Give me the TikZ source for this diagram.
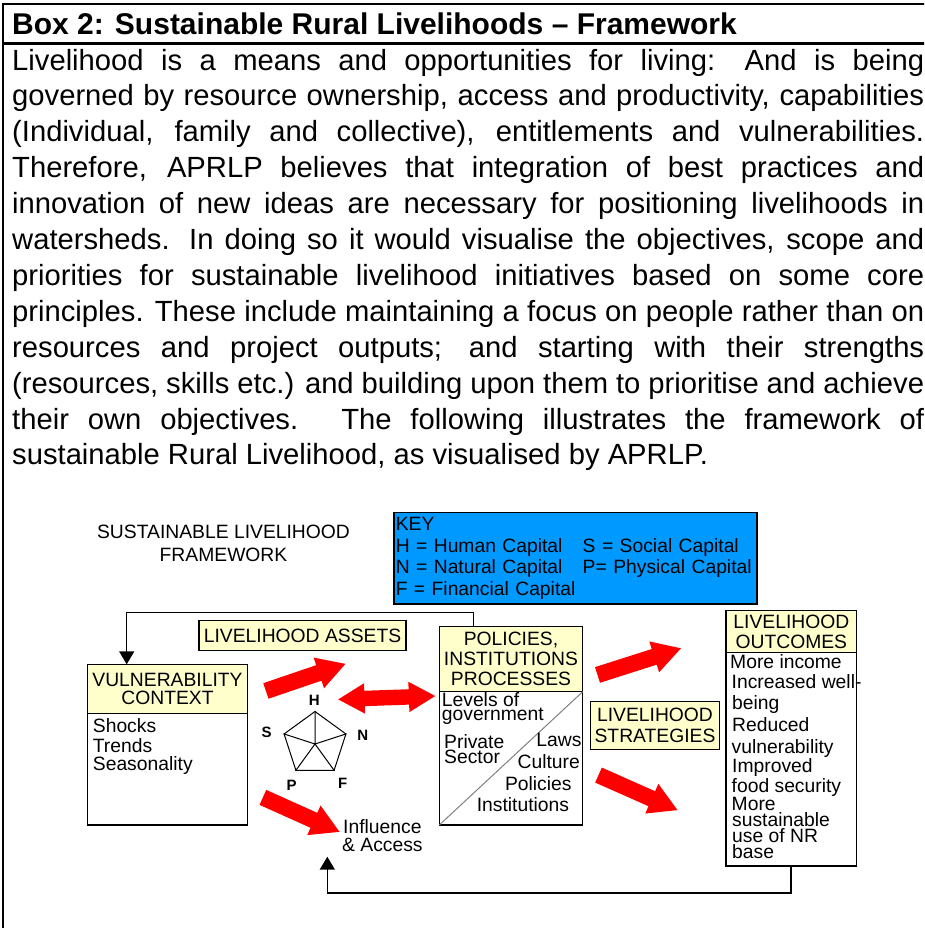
\documentclass[tikz,border=0pt]{standalone}
\usepackage{fontspec}
\setmainfont{Liberation Sans}
\usetikzlibrary{positioning, arrows.meta, shapes.arrows, shapes.geometric}
\definecolor{cream}{RGB}{255,255,204}
\definecolor{keyblue}{RGB}{0,153,255}
\definecolor{linegray}{RGB}{128,128,128}
\newcommand{\bodyfont}{\fontsize{29.2}{35.9}\selectfont}
\newcommand{\headfont}{\fontsize{30}{36}\selectfont\bfseries}
\newcommand{\dgfont}{\fontsize{19.3}{19.5}\selectfont}
\newcommand{\jline}[1]{\makebox[912pt][s]{#1}}

\begin{document}
\begin{tikzpicture}[x=1pt, y=-1pt,
  boxline/.style={line width=2.5pt},
  hdr/.style={draw, fill=cream, line width=1.5pt, inner sep=0pt, outer sep=0pt, align=center, font=\dgfont},
  bodybox/.style={draw, fill=white, line width=1.5pt, inner sep=0pt, outer sep=0pt},
  txt/.style={font=\dgfont, inner sep=0pt, anchor=base west},
  rtxt/.style={font=\dgfont, inner sep=0pt, anchor=base east},
  capital/.style={font=\fontsize{15}{15}\selectfont\bfseries, inner sep=0pt, anchor=base},
  redarrow/.style={single arrow, fill=red, inner xsep=0pt, inner ysep=8pt, single arrow head extend=8pt, single arrow tip angle=60, anchor=tail},
  fb/.style={line width=1.5pt, -{Triangle[width=15pt,length=13pt]}}]

\useasboundingbox (0,0) rectangle (924,928);
\clip (0,0) rectangle (924,928);

% the box runs on past the right and bottom edge
\draw[boxline] (3,950) -- (3,4) -- (950,4);
\draw[boxline] (3,43.5) -- (950,43.5);

\node[anchor=base west, inner sep=0pt, font=\headfont] (title) at (12,35) {Box 2: Sustainable Rural Livelihoods – Framework};

\node[anchor=north west, inner sep=0pt, align=left, font=\bodyfont] (para) at (12,48.7) {%
\jline{Livelihood is a means and opportunities for living: And is being}\\
\jline{governed by resource ownership, access and productivity, capabilities}\\
\jline{(Individual, family and collective), entitlements and vulnerabilities.}\\
\jline{Therefore, APRLP believes that integration of best practices and}\\
\jline{innovation of new ideas are necessary for positioning livelihoods in}\\
\jline{watersheds. In doing so it would visualise the objectives, scope and}\\
\jline{priorities for sustainable livelihood initiatives based on some core}\\
\jline{principles. These include maintaining a focus on people rather than on}\\
\jline{resources and project outputs; and starting with their strengths}\\
\jline{(resources, skills etc.) and building upon them to prioritise and achieve}\\
\jline{their own objectives. The following illustrates the framework of}\\
sustainable Rural Livelihood, as visualised by APRLP.};

% framework diagram
\node[align=center, inner sep=0pt, font=\fontsize{19.3}{22.7}\selectfont] (sltitle) at (223.5,543.4) {SUSTAINABLE LIVELIHOOD\\FRAMEWORK};

\node[draw, fill=keyblue, line width=1.5pt, anchor=north west, text width=359pt, inner xsep=2pt, inner ysep=0pt, minimum height=91.6pt, align=left, font=\fontsize{19.3}{21.7}\selectfont] (key) at (393,511.7)
  {KEY\\ \makebox[187pt][l]{H = Human Capital}S = Social Capital\\ \makebox[187pt][l]{N = Natural Capital}P= Physical Capital\\ F = Financial Capital};

\node[hdr, minimum width=207pt, minimum height=30pt, anchor=north west] (assets) at (199,620.7) {LIVELIHOOD ASSETS};

\node[hdr, minimum width=160.4pt, minimum height=49pt, anchor=north west, font=\fontsize{19.3}{18.4}\selectfont] (vulhead) at (87.3,664.3) {VULNERABILITY\\CONTEXT};
\node[bodybox, minimum width=160.4pt, minimum height=111.7pt, below=0pt of vulhead] (vulbody) {};
\node[txt] (shocks) at (92.7,732.7) {Shocks};
\node[txt] (trends) at (92.7,752.7) {Trends};
\node[txt] (season) at (92.7,770.5) {Seasonality};

% capital assets pentagon
\node[regular polygon, regular polygon sides=5, draw, line width=1pt, minimum size=65pt, inner sep=0pt] (pent) at (315,744) {};
\draw[line width=1pt] (pent.corner 1) -- (pent.center) -- (pent.corner 2)
  (pent.center) -- (pent.corner 3) (pent.center) -- (pent.corner 4) (pent.center) -- (pent.corner 5);
\node[capital] (capH) at (314.3,705) {H};
\node[capital] (capN) at (362.7,740) {N};
\node[capital] (capF) at (342.7,788.3) {F};
\node[capital] (capP) at (291.7,790) {P};
\node[capital] (capS) at (266.7,737.7) {S};

\node[hdr, minimum width=143.4pt, minimum height=65pt, anchor=north west, font=\fontsize{19.3}{20}\selectfont] (polhead) at (439.3,626.7) {POLICIES,\\INSTITUTIONS\\PROCESSES};
\node[bodybox, minimum width=143.4pt, minimum height=133.3pt, below=0pt of polhead] (polbody) {};
\draw[linegray, line width=1pt] (polbody.south west) -- (polbody.north east);
\node[txt] (levels) at (441.7,706) {Levels of};
\node[txt] (govt) at (441.7,720) {government};
\node[txt] (priv) at (444,748) {Private};
\node[txt] (sector) at (444,763.5) {Sector};
\node[rtxt] (laws) at (581.7,746.7) {Laws};
\node[rtxt] (culture) at (580,768.3) {Culture};
\node[rtxt] (policies) at (571.7,790) {Policies};
\node[rtxt] (instit) at (569.3,811.7) {Institutions};

\node[hdr, minimum width=128.6pt, minimum height=47.6pt, anchor=north west, font=\fontsize{19.3}{21.6}\selectfont] (strat) at (590.7,701.7) {LIVELIHOOD\\STRATEGIES};

\node[hdr, minimum width=130.7pt, minimum height=42pt, anchor=north west, font=\fontsize{19.3}{19.3}\selectfont] (outhead) at (726,610.7) {LIVELIHOOD\\OUTCOMES};
\node[bodybox, minimum width=130.7pt, minimum height=213.3pt, below=0pt of outhead] (outbody) {};
\node[txt] (o1) at (730,668.3) {More income};
\node[txt] (o2) at (731.5,688.3) {Increased well-};
\node[txt] (o3) at (732,709) {being};
\node[txt] (o4) at (732,731.7) {Reduced};
\node[txt] (o5) at (731.5,753.3) {vulnerability};
\node[txt] (o6) at (732,772) {Improved};
\node[txt] (o7) at (731.5,792) {food security};
\node[txt] (o8) at (731.5,810) {More};
\node[txt] (o9) at (732,826.3) {sustainable};
\node[txt] (o10) at (732,842.7) {use of NR};
\node[txt] (o11) at (732,858) {base};

\node[txt] (infl) at (343,833.3) {Influence};
\node[txt] (access) at (342,851.7) {\& Access};

% red block arrows
\node[redarrow, minimum height=84pt, rotate=18.8] (ar1) at (265.7,691) {};
\node[redarrow, minimum height=84pt, rotate=-24.2] (ar2) at (262.7,797.3) {};
\node[redarrow, minimum height=87.6pt, rotate=17.7] (ar3) at (597.3,675) {};
\node[redarrow, minimum height=86.4pt, rotate=-23.9] (ar4) at (598.3,775) {};
\node[double arrow, fill=red, inner xsep=0pt, inner ysep=7.5pt, double arrow head extend=7.5pt, double arrow tip angle=60, minimum height=97pt, rotate=2] (dbl) at (386.7,697.7) {};

% feedback loops
\coordinate (fbr) at (473.3,612.7);
\coordinate (fbl) at (126.7,612.7);
\draw[fb] (polhead.north -| fbr) -- (fbr) -- (fbl) -- (vulhead.north -| fbl);
\coordinate (fbbr) at (791,893);
\coordinate (fbbl) at (327.3,893);
\coordinate (fbtip) at (327.3,856.7);
\draw[fb] (outbody.south -| fbbr) -- (fbbr) -- (fbbl) -- (fbtip);
\end{tikzpicture}
\end{document}
